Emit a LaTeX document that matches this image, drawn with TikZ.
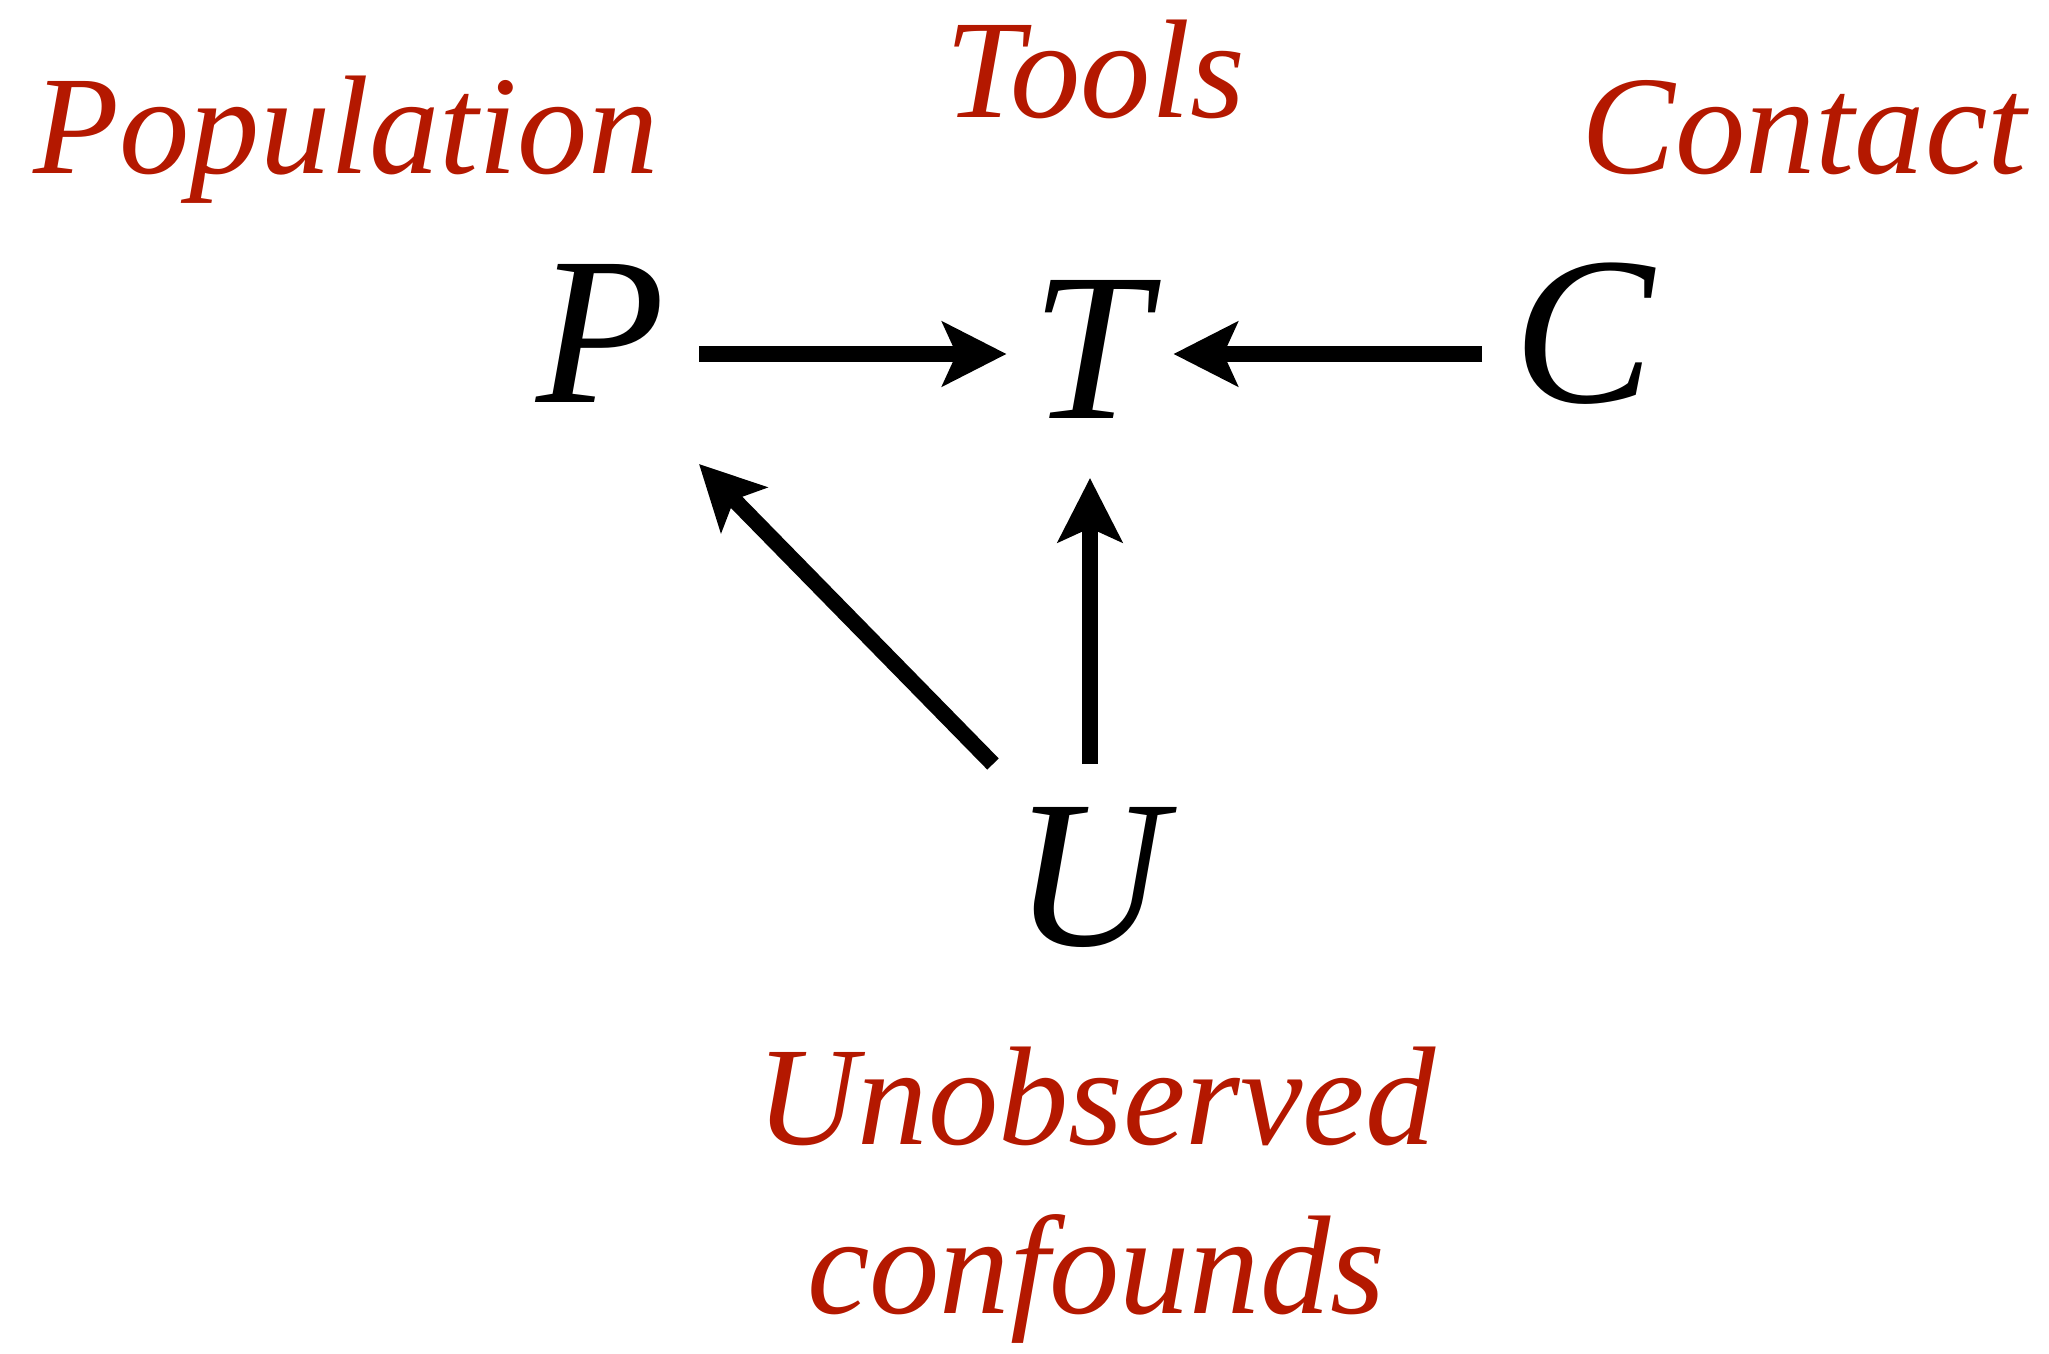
\documentclass[tikz,border=0pt]{standalone}
\usepackage{fontspec}
\setmainfont{Liberation Serif}
\usepackage{tikz}
\usetikzlibrary{arrows.meta,positioning,calc}
\definecolor{labelred}{RGB}{180,24,0}
\tikzstyle{var} = [inner sep=0pt, outer sep=0pt, font=\itshape\fontsize{60}{72}\selectfont]
\tikzstyle{lbl} = [inner sep=0pt, anchor=base, align=center, text=labelred, font=\itshape\fontsize{40}{48}\selectfont]
\tikzstyle{arr} = [-{Stealth[length=0.64cm, width=0.64cm, inset=0.14cm]}, line width=0.16cm]

\begin{document}
\begin{tikzpicture}
  \useasboundingbox (0,0) rectangle (20.49,13.53);
  % Variables
  \node [var, minimum width=1.96cm, minimum height=2.20cm, text depth=0.42cm] (P) at (6.01,9.99) {P};
  \node [var, minimum width=1.67cm, minimum height=2.48cm, text depth=0.10cm] (T) at (10.90,9.99) {T};
  \node [var, minimum width=2.04cm, minimum height=2.00cm, text depth=0.42cm] (C) at (15.84,9.99) {C};
  \node [var, minimum width=1.94cm, minimum height=2.26cm] (U) at (10.90,4.76) {U};

  % Labels
  \node [lbl] (pop) at (3.46,11.79) {Population};
  \node [lbl] (tools) at (10.95,12.35) {Tools};
  \node [lbl] (cont) at (18.04,11.79) {Contact};
  \node [lbl] (unobs) at (10.96,0.40) {Unobserved\\confounds};

  % Edges
  \draw [arr] (P.east) -- (T.west);
  \draw [arr] (C.west) -- (T.east);
  \draw [arr] (U.north) -- (T.south);
  \draw [arr] (U.north west) -- (P.south east);
\end{tikzpicture}
\end{document}
